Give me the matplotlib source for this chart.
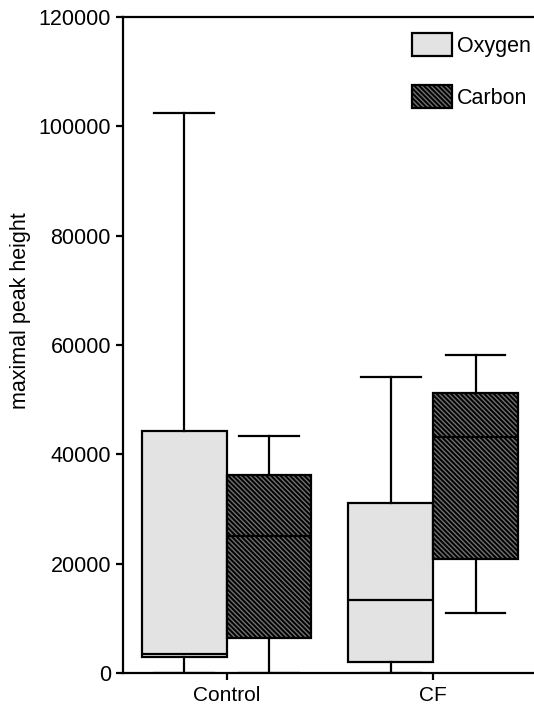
import matplotlib
matplotlib.use("Agg")
import matplotlib.pyplot as plt
from matplotlib.patches import Patch

plt.rcParams['font.family'] = ['Liberation Sans', 'DejaVu Sans']
plt.rcParams['hatch.linewidth'] = 1.4

# data
groups = ['Control', 'CF']
series = ['Oxygen', 'Carbon']
whis_lo = {'Oxygen': [0, 0], 'Carbon': [0, 11000]}
q1 = {'Oxygen': [2900, 2000], 'Carbon': [6400, 20800]}
median = {'Oxygen': [3400, 13300], 'Carbon': [25100, 43100]}
q3 = {'Oxygen': [44200, 31200], 'Carbon': [36300, 51200]}
whis_hi = {'Oxygen': [102400, 54200], 'Carbon': [43400, 58200]}

y_ticks = [0, 20000, 40000, 60000, 80000, 100000, 120000]

face = {'Oxygen': '#e3e3e3', 'Carbon': '#707070'}
hatch = {'Oxygen': None, 'Carbon': '\\' * 7}
offset = {'Oxygen': -0.205, 'Carbon': 0.205}

fig = plt.figure(figsize=(5.34, 7.10), dpi=100)
ax = fig.add_axes([0.2298, 0.052, 0.7702, 0.924])

for s in series:
    stats = []
    for i, g in enumerate(groups):
        stats.append(dict(label=g, whislo=whis_lo[s][i], q1=q1[s][i], med=median[s][i],
                          q3=q3[s][i], whishi=whis_hi[s][i], fliers=[]))
    pos = [i + offset[s] for i in range(len(groups))]
    bp = ax.bxp(stats, positions=pos, widths=0.41, patch_artist=True, showfliers=False,
                manage_ticks=False, capwidths=0.29,
                boxprops=dict(facecolor=face[s], edgecolor='black', linewidth=1.6),
                whiskerprops=dict(color='black', linewidth=1.6),
                capprops=dict(color='black', linewidth=1.6),
                medianprops=dict(color='black', linewidth=1.6))
    for b in bp['boxes']:
        if hatch[s]:
            b.set_hatch(hatch[s])

ax.set_xlim(-0.503, 1.488)
ax.set_ylim(0, 120000)
ax.set_yticks(y_ticks)
ax.set_yticklabels([str(t) for t in y_ticks])
ax.set_xticks(range(len(groups)))
ax.set_xticklabels(groups)
ax.tick_params(labelsize=15.5, width=1.6, length=5)
ax.tick_params(axis='x', pad=4.5, labelsize=15)
ax.set_ylabel('maximal peak height', fontsize=15.5)
ax.yaxis.set_label_coords(-0.222, 0.552)

ax.spines['right'].set_visible(False)
for sp in ['left', 'bottom', 'top']:
    ax.spines[sp].set_linewidth(1.6)

handles = [Patch(facecolor=face[s], edgecolor='black', linewidth=1.6, hatch=hatch[s]) for s in series]
ax.legend(handles, series, loc='upper left', bbox_to_anchor=(0.703, 0.975), frameon=False,
          fontsize=15.5, handlelength=1.86, handleheight=1.25, labelspacing=1.3,
          handletextpad=0.25, borderpad=0, borderaxespad=0)

fig.savefig('out.png', dpi=100)
